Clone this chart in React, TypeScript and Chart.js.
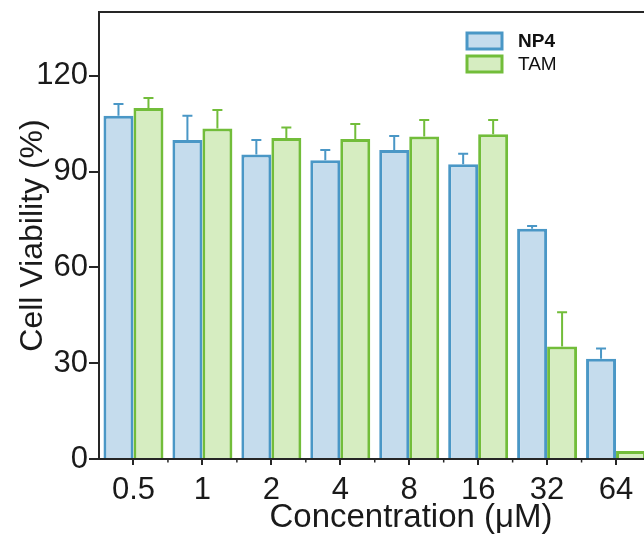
import { useEffect, useRef } from "react";
import { Chart, registerables } from "chart.js";

Chart.register(...registerables);

const categories = ["0.5", "1", "2", "4", "8", "16", "32", "64"];
const np4Values = [107.5, 99.9, 95.4, 93.6, 96.8, 92.3, 72.1, 31.4];
const np4Errors = [3.7, 7.6, 4.5, 3.2, 4.4, 3.3, 0.9, 3.2];
const tamValues = [109.9, 103.5, 100.5, 100.2, 101.0, 101.7, 35.2, 2.5];
const tamErrors = [3.2, 5.8, 3.3, 4.7, 5.2, 4.5, 10.8, 0];
const yTicks = [0, 30, 60, 90, 120];
const xTitle = "Concentration (μM)";
const yTitle = "Cell Viability (%)";

const BLUE = "#4a97c6";
const BLUE_FILL = "#c5dced";
const GREEN = "#72bd3a";
const GREEN_FILL = "#d6edc1";
const AXIS = "#262626";
const TEXT = "#1a1a1a";
const FONT = "'Liberation Sans', Arial, sans-serif";

const errorBarPlugin = {
  id: "errorBars",
  afterDatasetsDraw(chart: any) {
    const ctx = chart.ctx;
    const yScale = chart.scales.y;
    chart.data.datasets.forEach((ds: any, i: number) => {
      const meta = chart.getDatasetMeta(i);
      meta.data.forEach((bar: any, j: number) => {
        const e = ds.errors[j];
        if (!e) return;
        const x = bar.x;
        const top = yScale.getPixelForValue(ds.data[j] + e);
        ctx.save();
        ctx.strokeStyle = ds.borderColor;
        ctx.lineWidth = 2;
        ctx.beginPath();
        ctx.moveTo(x, bar.y);
        ctx.lineTo(x, top);
        ctx.moveTo(x - 5, top);
        ctx.lineTo(x + 5, top);
        ctx.stroke();
        ctx.restore();
      });
    });
  },
};

const framePlugin = {
  id: "frame",
  afterDraw(chart: any) {
    const { ctx, chartArea } = chart;
    const xScale = chart.scales.x;
    ctx.save();
    ctx.strokeStyle = AXIS;
    ctx.lineWidth = 2;
    // top frame line
    ctx.beginPath();
    ctx.moveTo(chartArea.left, chartArea.top);
    ctx.lineTo(chartArea.right + 2, chartArea.top);
    ctx.stroke();
    // minor ticks between categories
    ctx.lineWidth = 1.5;
    ctx.beginPath();
    for (let i = 0; i < categories.length - 1; i++) {
      const xm =
        (xScale.getPixelForValue(i) + xScale.getPixelForValue(i + 1)) / 2;
      ctx.moveTo(xm, chartArea.bottom);
      ctx.lineTo(xm, chartArea.bottom + 3.5);
    }
    ctx.stroke();

    // x axis title (the original axis continues past the visible edge)
    ctx.fillStyle = TEXT;
    ctx.font = "33px " + FONT;
    ctx.textAlign = "center";
    ctx.textBaseline = "alphabetic";
    ctx.fillText(xTitle, chartArea.left + 312, chartArea.bottom + 68);

    // legend
    const lx = chartArea.left + 368;
    const ly = chartArea.top + 21;
    const bw = 35;
    const bh = 16;
    const gap = 7;
    chart.data.datasets.forEach((ds: any, i: number) => {
      const y = ly + i * (bh + gap);
      ctx.fillStyle = ds.backgroundColor;
      ctx.fillRect(lx, y, bw, bh);
      ctx.strokeStyle = ds.borderColor;
      ctx.lineWidth = 3;
      ctx.strokeRect(lx, y, bw, bh);
      ctx.fillStyle = "#111";
      ctx.font = (i === 0 ? "bold " : "") + "19px " + FONT;
      ctx.textBaseline = "middle";
      ctx.textAlign = "left";
      ctx.fillText(ds.label, lx + bw + 16, y + bh / 2 + 1);
    });
    ctx.restore();
  },
};

export default function App() {
  const ref = useRef<HTMLCanvasElement | null>(null);

  useEffect(() => {
    if (!ref.current) return;
    const chart = new Chart(ref.current, {
      type: "bar",
      data: {
        labels: categories,
        datasets: [
          {
            label: "NP4",
            data: np4Values,
            errors: np4Errors,
            backgroundColor: BLUE_FILL,
            borderColor: BLUE,
            borderWidth: 3,
            categoryPercentage: 0.87,
            barPercentage: 1,
          } as any,
          {
            label: "TAM",
            data: tamValues,
            errors: tamErrors,
            backgroundColor: GREEN_FILL,
            borderColor: GREEN,
            borderWidth: 3,
            categoryPercentage: 0.87,
            barPercentage: 1,
          } as any,
        ],
      },
      options: {
        responsive: false,
        animation: false,
        layout: { padding: { left: 0, top: 12, right: 9.5, bottom: 0 } },
        plugins: {
          legend: { display: false },
          tooltip: { enabled: false },
        },
        scales: {
          x: {
            afterFit: (s: any) => {
              s.height = 82;
              s.paddingLeft = 0;
              s.paddingRight = 0;
            },
            grid: {
              offset: false,
              drawOnChartArea: false,
              tickLength: 6,
              lineWidth: 2,
              color: AXIS,
            },
            border: { display: true, color: AXIS, width: 2 },
            ticks: {
              color: TEXT,
              padding: 7,
              maxRotation: 0,
              autoSkip: false,
              font: { family: FONT, size: 31 },
            },
            title: { display: false },
          },
          y: {
            min: 0,
            max: 140,
            afterFit: (s: any) => {
              s.width = 99;
              s.paddingTop = 0;
              s.paddingBottom = 0;
            },
            afterBuildTicks: (s: any) => {
              s.ticks = yTicks.map((v) => ({ value: v }));
            },
            grid: {
              drawOnChartArea: false,
              tickLength: 10,
              lineWidth: 2,
              color: AXIS,
            },
            border: { display: true, color: AXIS, width: 2 },
            ticks: {
              color: TEXT,
              padding: 1,
              font: { family: FONT, size: 31 },
            },
            title: {
              display: true,
              text: yTitle,
              color: TEXT,
              padding: { top: 14, bottom: 0 },
              font: { family: FONT, size: 32 },
            },
          },
        },
      },
      plugins: [errorBarPlugin, framePlugin],
    });
    return () => chart.destroy();
  }, []);

  return (
    <div
      style={{
        position: "fixed",
        left: 0,
        top: 0,
        width: 644,
        height: 541,
        overflow: "hidden",
        background: "#fff",
      }}
    >
      <canvas
        ref={ref}
        width={660}
        height={541}
        style={{ display: "block", width: 660, height: 541 }}
      />
    </div>
  );
}
